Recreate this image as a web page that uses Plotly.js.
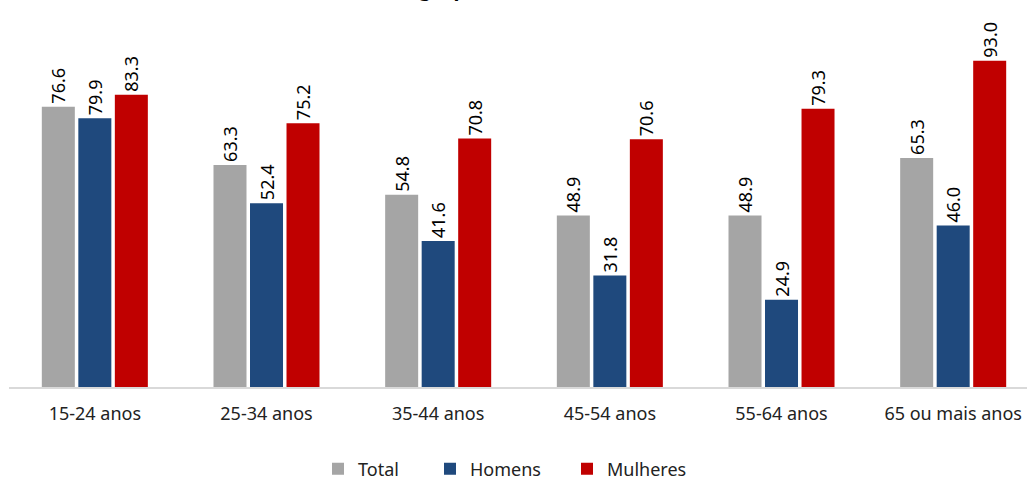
<!DOCTYPE html>
<html>
<head>
<meta charset="utf-8">
<script src="https://cdn.plot.ly/plotly-3.0.1.min.js"></script>
<style>html,body{margin:0;padding:0;background:#fff;}#chart{width:1027px;height:481px;}</style>
</head>
<body>
<div id="chart"></div>
<script>
const categories = ['15-24 anos', '25-34 anos', '35-44 anos', '45-54 anos', '55-64 anos', '65 ou mais anos'];
const totalValues = [79.9, 63.3, 54.8, 48.9, 48.9, 65.3];
const homensValues = [76.6, 52.4, 41.6, 31.8, 24.9, 46.0];
const mulheresValues = [83.3, 75.2, 70.8, 70.6, 79.3, 93.0];
const totalLabels = ['76.6', '63.3', '54.8', '48.9', '48.9', '65.3'];
const homensLabels = ['79.9', '52.4', '41.6', '31.8', '24.9', '46.0'];
const mulheresLabels = ['83.3', '75.2', '70.8', '70.6', '79.3', '93.0'];
const seriesNames = ['Total', 'Homens', 'Mulheres'];
const seriesColors = ['#a5a5a5', '#1f497d', '#c00000'];

const FONT = 'Noto Sans, Open Sans, sans-serif';
const values = [totalValues, homensValues, mulheresValues];
const labels = [totalLabels, homensLabels, mulheresLabels];
const legendIds = ['legend', 'legend2', 'legend3'];
const legendX = [318, 430, 567];

const traces = values.map((v, i) => ({
  type: 'bar',
  name: seriesNames[i],
  legend: legendIds[i],
  x: categories,
  y: v,
  text: labels[i],
  textposition: 'outside',
  textangle: -90,
  constraintext: 'none',
  cliponaxis: false,
  textfont: {family: FONT, size: 18, color: '#000'},
  marker: {color: seriesColors[i]},
  hoverinfo: 'x+y+name'
}));

const layout = {
  width: 1027,
  height: 481,
  margin: {l: 9, r: 0, t: 20, b: 94, autoexpand: false},
  paper_bgcolor: '#fff',
  plot_bgcolor: '#fff',
  barmode: 'group',
  bargap: 0.362,
  bargroupgap: 0.096,
  showlegend: true,
  xaxis: {
    type: 'category',
    range: [-0.5, 5.43],
    showline: true, linecolor: '#d9d9d9', linewidth: 1.5,
    showgrid: false, zeroline: false,
    ticks: '',
    tickfont: {family: FONT, size: 18, color: '#222'},
    ticklabelstandoff: 10
  },
  yaxis: {
    range: [0, 104.6],
    showticklabels: false, showgrid: false, zeroline: false, showline: false
  },
  annotations: [{
    text: '<b>grupo</b>',
    xref: 'paper', yref: 'paper', x: 0.4008, y: 1, xanchor: 'left', yanchor: 'bottom',
    yshift: 16, showarrow: false,
    font: {family: FONT, size: 20, color: '#000'}
  }]
};
legendIds.forEach((id, i) => {
  layout[id] = {
    xref: 'container', yref: 'container',
    x: legendX[i] / 1027, xanchor: 'left',
    y: 0.025, yanchor: 'middle',
    orientation: 'h',
    font: {family: FONT, size: 18, color: '#222'},
    itemwidth: 30, bgcolor: 'rgba(0,0,0,0)'
  };
});

Plotly.newPlot('chart', traces, layout, {displayModeBar: false, staticPlot: true});
</script>
</body>
</html>
